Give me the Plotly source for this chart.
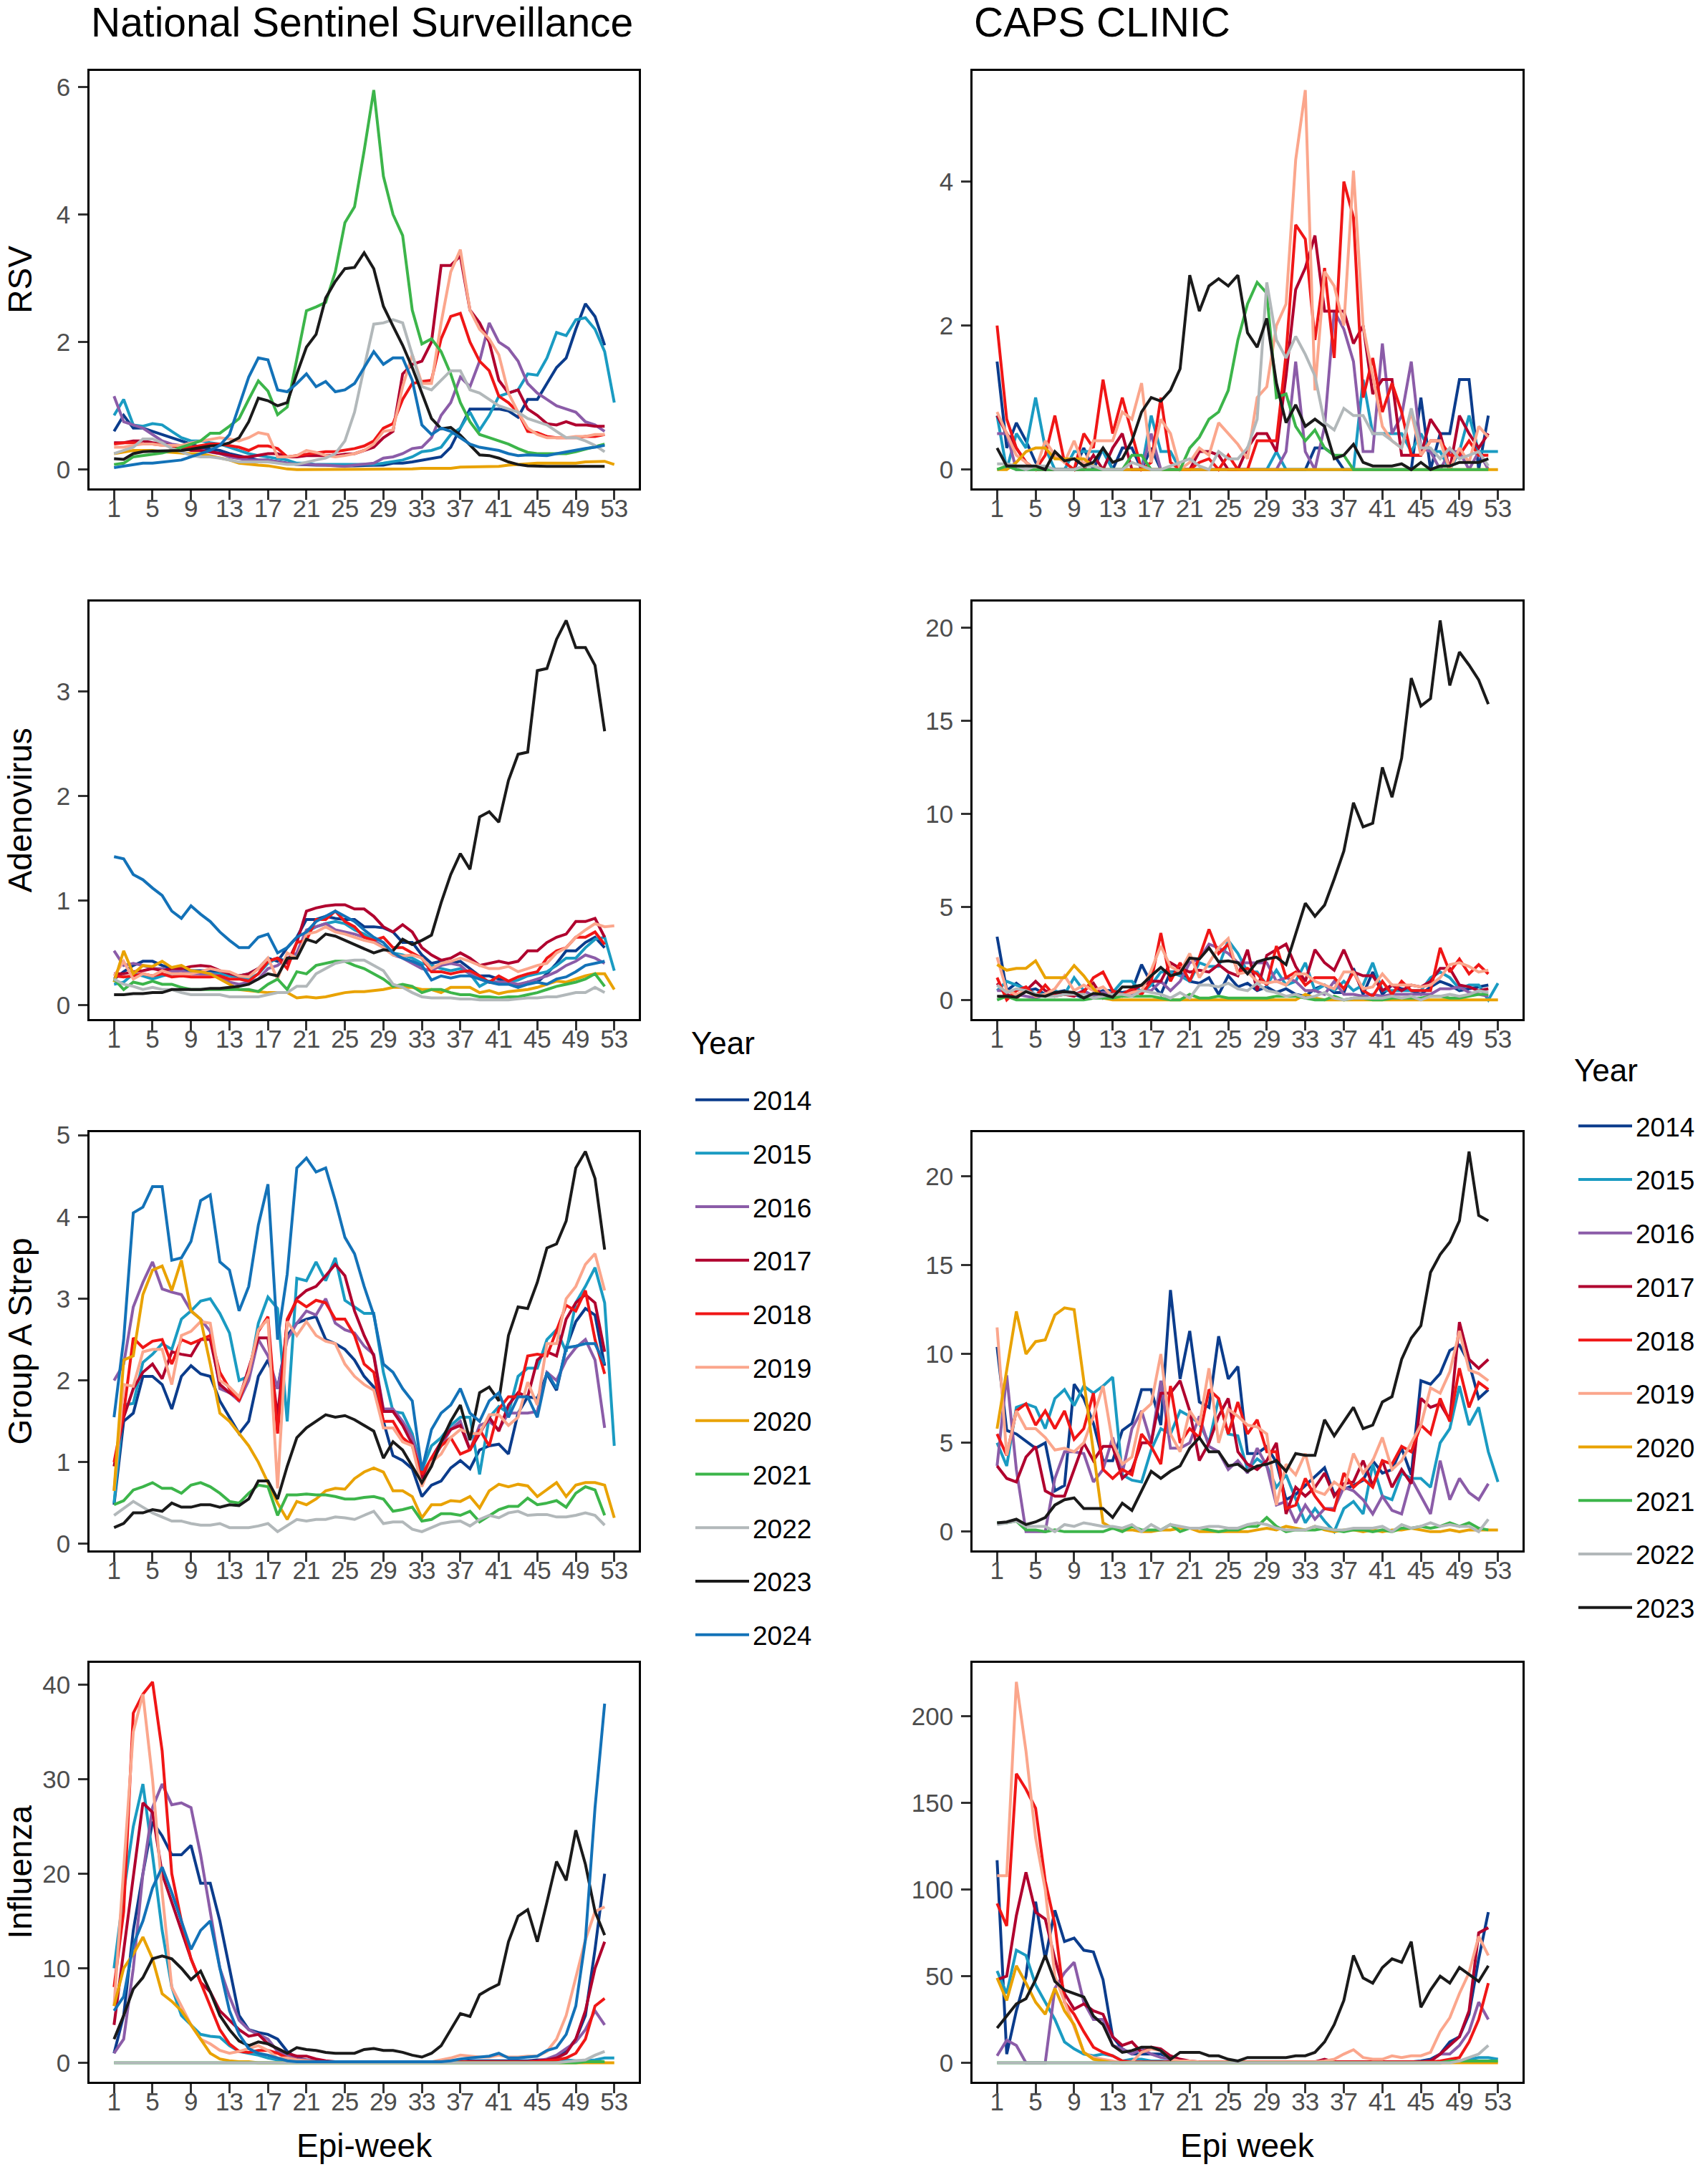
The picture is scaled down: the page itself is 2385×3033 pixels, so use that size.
import plotly.graph_objects as go

# ---------------- data ----------------
YEARS = [2014, 2015, 2016, 2017, 2018, 2019, 2020, 2021, 2022, 2023, 2024]
COLORS = {2014: "#0B3C8C", 2015: "#1A9BC2", 2016: "#8B5CA8", 2017: "#B0002E",
          2018: "#F01616", 2019: "#FBA68C", 2020: "#E9A200", 2021: "#3CB54A",
          2022: "#B2B8BA", 2023: "#1A1A1A", 2024: "#1372B8"}
X_TICKS = [1, 5, 9, 13, 17, 21, 25, 29, 33, 37, 41, 45, 49, 53]
ROW_LABELS = ["RSV", "Adenovirus", "Group A Strep", "Influenza"]
COL_TITLES = ["National Sentinel Surveillance", "CAPS CLINIC"]
X_TITLES = ["Epi-week", "Epi week"]
LEGEND_TITLE = "Year"

# ---- RSV, National Sentinel Surveillance ----
RSV_NSS_2014 = [0.60, 0.85, 0.65, 0.65, 0.60, 0.55, 0.50, 0.45, 0.40, 0.35, 0.32, 0.30, 0.25, 0.22, 0.18, 0.15, 0.15, 0.12, 0.10, 0.08, 0.07, 0.07, 0.07, 0.06, 0.06, 0.06, 0.06, 0.06, 0.07, 0.10, 0.10, 0.12, 0.15, 0.18, 0.20, 0.35, 0.65, 0.95, 0.95, 0.95, 0.95, 0.92, 0.82, 1.10, 1.10, 1.35, 1.60, 1.75, 2.20, 2.60, 2.40, 1.95]
RSV_NSS_2015 = [0.85, 1.10, 0.70, 0.68, 0.72, 0.70, 0.60, 0.50, 0.45, 0.45, 0.42, 0.40, 0.35, 0.30, 0.25, 0.22, 0.20, 0.18, 0.15, 0.10, 0.10, 0.08, 0.08, 0.08, 0.07, 0.07, 0.07, 0.08, 0.10, 0.12, 0.15, 0.20, 0.28, 0.30, 0.35, 0.55, 0.65, 0.90, 0.62, 0.85, 1.15, 1.20, 1.25, 1.50, 1.48, 1.75, 2.15, 2.10, 2.35, 2.38, 2.20, 1.85, 1.05]
RSV_NSS_2016 = [1.15, 0.75, 0.70, 0.65, 0.55, 0.45, 0.40, 0.38, 0.35, 0.30, 0.28, 0.25, 0.20, 0.18, 0.15, 0.15, 0.15, 0.12, 0.10, 0.08, 0.08, 0.08, 0.07, 0.06, 0.05, 0.07, 0.08, 0.10, 0.18, 0.20, 0.25, 0.33, 0.35, 0.50, 0.85, 1.05, 1.45, 1.30, 1.70, 2.30, 2.00, 1.90, 1.70, 1.35, 1.20, 1.10, 1.00, 0.95, 0.90, 0.75, 0.70, 0.60]
RSV_NSS_2017 = [0.42, 0.42, 0.45, 0.45, 0.42, 0.40, 0.38, 0.35, 0.30, 0.30, 0.28, 0.25, 0.22, 0.20, 0.20, 0.22, 0.25, 0.25, 0.20, 0.20, 0.22, 0.22, 0.22, 0.22, 0.24, 0.25, 0.30, 0.35, 0.50, 0.60, 1.50, 1.65, 1.70, 2.00, 3.20, 3.20, 3.35, 2.50, 2.30, 2.00, 1.40, 1.20, 1.25, 0.95, 0.85, 0.72, 0.70, 0.75, 0.70, 0.70, 0.68, 0.68]
RSV_NSS_2018 = [0.40, 0.42, 0.42, 0.40, 0.40, 0.38, 0.37, 0.35, 0.35, 0.37, 0.40, 0.40, 0.37, 0.35, 0.30, 0.37, 0.37, 0.33, 0.20, 0.22, 0.25, 0.27, 0.28, 0.28, 0.30, 0.33, 0.37, 0.45, 0.65, 0.72, 1.10, 1.35, 1.38, 1.40, 2.05, 2.40, 2.45, 2.00, 1.70, 1.55, 1.15, 1.05, 0.90, 0.60, 0.58, 0.52, 0.50, 0.50, 0.50, 0.52, 0.52, 0.55]
RSV_NSS_2019 = [0.35, 0.35, 0.38, 0.40, 0.40, 0.38, 0.38, 0.38, 0.42, 0.45, 0.48, 0.50, 0.48, 0.45, 0.50, 0.58, 0.55, 0.20, 0.20, 0.22, 0.30, 0.27, 0.22, 0.20, 0.22, 0.25, 0.30, 0.40, 0.60, 0.62, 1.30, 1.80, 1.35, 1.35, 2.30, 3.10, 3.45, 2.50, 2.20, 2.05, 1.80, 1.20, 0.90, 0.65, 0.55, 0.50, 0.50, 0.50, 0.52, 0.52, 0.55, 0.55]
RSV_NSS_2020 = [0.25, 0.28, 0.30, 0.30, 0.30, 0.28, 0.27, 0.25, 0.25, 0.25, 0.22, 0.18, 0.15, 0.10, 0.08, 0.07, 0.06, 0.03, 0.01, 0.00, 0.00, 0.00, 0.00, 0.00, 0.00, 0.00, 0.00, 0.01, 0.01, 0.01, 0.01, 0.01, 0.02, 0.02, 0.02, 0.02, 0.04, 0.04, 0.05, 0.05, 0.05, 0.07, 0.08, 0.10, 0.10, 0.10, 0.10, 0.10, 0.10, 0.12, 0.12, 0.13, 0.08]
RSV_NSS_2021 = [0.08, 0.10, 0.20, 0.22, 0.24, 0.26, 0.30, 0.35, 0.40, 0.45, 0.57, 0.57, 0.68, 0.80, 1.10, 1.39, 1.23, 0.86, 0.98, 1.74, 2.49, 2.55, 2.62, 3.10, 3.87, 4.12, 5.00, 5.95, 4.60, 4.00, 3.67, 2.50, 1.97, 2.05, 1.85, 1.50, 1.05, 0.75, 0.55, 0.50, 0.45, 0.40, 0.33, 0.27, 0.25, 0.25, 0.25, 0.25, 0.28, 0.32, 0.35, 0.40]
RSV_NSS_2022 = [0.25, 0.30, 0.35, 0.48, 0.48, 0.42, 0.33, 0.28, 0.22, 0.20, 0.20, 0.18, 0.15, 0.12, 0.12, 0.12, 0.12, 0.10, 0.08, 0.08, 0.12, 0.15, 0.18, 0.25, 0.45, 0.90, 1.60, 2.28, 2.30, 2.35, 2.30, 1.80, 1.30, 1.25, 1.40, 1.55, 1.55, 1.25, 1.20, 1.10, 1.00, 0.95, 0.90, 0.80, 0.75, 0.70, 0.60, 0.50, 0.50, 0.45, 0.38, 0.28]
RSV_NSS_2023 = [0.17, 0.16, 0.25, 0.28, 0.29, 0.29, 0.30, 0.30, 0.32, 0.35, 0.37, 0.38, 0.42, 0.50, 0.75, 1.12, 1.08, 1.00, 1.05, 1.50, 1.92, 2.12, 2.69, 2.95, 3.15, 3.17, 3.40, 3.15, 2.56, 2.25, 1.95, 1.60, 1.20, 0.80, 0.64, 0.66, 0.54, 0.38, 0.23, 0.22, 0.18, 0.12, 0.08, 0.06, 0.05, 0.05, 0.05, 0.05, 0.05, 0.05, 0.05, 0.05]
RSV_NSS_2024 = [0.03, 0.05, 0.07, 0.10, 0.10, 0.12, 0.13, 0.15, 0.20, 0.25, 0.30, 0.38, 0.55, 1.00, 1.45, 1.75, 1.72, 1.25, 1.22, 1.35, 1.50, 1.30, 1.38, 1.22, 1.25, 1.35, 1.60, 1.85, 1.65, 1.75, 1.75, 1.40, 0.70, 0.55, 0.65, 0.60, 0.50, 0.40, 0.35, 0.33, 0.30, 0.25, 0.22, 0.23, 0.23, 0.22, 0.25, 0.28, 0.30, 0.33, 0.35, 0.38]

# ---- RSV, CAPS clinic ----
RSV_CAPS_2014 = [1.50, 0.30, 0.65, 0.40, 0.10, 0.00, 0.00, 0.00, 0.00, 0.30, 0.00, 0.30, 0.00, 0.30, 0.30, 0.00, 0.30, 0.00, 0.00, 0.00, 0.00, 0.00, 0.00, 0.00, 0.00, 0.00, 0.00, 0.00, 0.00, 0.00, 0.00, 0.00, 0.00, 0.30, 0.30, 0.20, 0.00, 0.00, 0.00, 0.00, 0.00, 0.00, 0.00, 0.00, 1.00, 0.00, 0.50, 0.50, 1.25, 1.25, 0.00, 0.75]
RSV_CAPS_2015 = [0.75, 0.00, 0.50, 0.30, 1.00, 0.30, 0.00, 0.00, 0.25, 0.25, 0.25, 0.25, 0.00, 0.00, 0.00, 0.00, 0.75, 0.25, 0.25, 0.00, 0.00, 0.00, 0.00, 0.00, 0.00, 0.00, 0.00, 0.00, 0.00, 0.25, 0.00, 0.00, 0.00, 0.00, 0.00, 0.00, 0.00, 0.00, 1.25, 0.50, 0.50, 0.50, 0.50, 0.25, 0.50, 0.25, 0.25, 0.00, 0.25, 0.75, 0.25, 0.25, 0.25]
RSV_CAPS_2016 = [0.50, 0.50, 0.00, 0.00, 0.00, 0.00, 0.00, 0.00, 0.00, 0.00, 0.00, 0.00, 0.00, 0.00, 0.00, 0.00, 0.50, 0.00, 0.00, 0.00, 0.00, 0.00, 0.00, 0.00, 0.00, 0.00, 0.00, 0.00, 0.00, 0.00, 0.25, 1.50, 0.25, 0.00, 0.60, 2.20, 1.95, 1.50, 0.25, 0.25, 1.75, 0.50, 0.75, 1.50, 0.30, 0.25, 0.00, 0.25, 0.25, 0.00, 0.25, 0.00]
RSV_CAPS_2017 = [0.75, 0.50, 0.30, 0.10, 0.00, 0.00, 0.00, 0.00, 0.00, 0.00, 0.20, 0.00, 0.30, 0.50, 0.00, 0.00, 0.00, 0.00, 0.00, 0.00, 0.00, 0.25, 0.25, 0.20, 0.00, 0.00, 0.30, 0.50, 0.50, 0.25, 1.30, 2.50, 2.80, 3.25, 2.20, 2.20, 2.20, 1.75, 2.00, 1.05, 1.25, 1.25, 0.20, 0.20, 0.20, 0.70, 0.50, 0.00, 0.75, 0.50, 0.30, 0.50]
RSV_CAPS_2018 = [2.00, 0.70, 0.30, 0.10, 0.00, 0.20, 0.75, 0.10, 0.00, 0.50, 0.30, 1.25, 0.50, 1.00, 0.50, 0.00, 0.10, 1.00, 0.10, 0.00, 0.00, 0.10, 0.15, 0.00, 0.20, 0.00, 0.00, 0.40, 0.40, 0.40, 1.60, 3.40, 3.20, 1.80, 2.80, 1.55, 4.00, 3.50, 1.00, 1.55, 0.80, 1.20, 0.80, 0.20, 0.20, 0.40, 0.40, 0.20, 0.20, 0.40, 0.20, 0.20]
RSV_CAPS_2019 = [0.80, 0.50, 0.20, 0.10, 0.00, 0.40, 0.20, 0.10, 0.40, 0.05, 0.40, 0.40, 0.40, 0.80, 0.70, 1.20, 0.10, 0.70, 0.50, 0.00, 0.10, 0.30, 0.20, 0.65, 0.50, 0.35, 0.15, 1.00, 1.15, 2.00, 2.30, 4.30, 5.27, 1.10, 2.75, 2.55, 2.00, 4.15, 2.00, 1.30, 0.60, 0.40, 0.30, 0.80, 0.20, 0.40, 0.40, 0.00, 0.30, 0.10, 0.60, 0.45]
RSV_CAPS_2020 = [0.00, 0.00, 0.10, 0.25, 0.30, 0.30, 0.15, 0.15, 0.15, 0.15, 0.05, 0.00, 0.00, 0.00, 0.00, 0.00, 0.00, 0.00, 0.00, 0.00, 0.00, 0.00, 0.00, 0.00, 0.00, 0.00, 0.00, 0.00, 0.00, 0.00, 0.00, 0.00, 0.00, 0.00, 0.00, 0.00, 0.00, 0.00, 0.00, 0.00, 0.00, 0.00, 0.00, 0.00, 0.00, 0.00, 0.00, 0.00, 0.00, 0.00, 0.00, 0.00, 0.00]
RSV_CAPS_2021 = [0.00, 0.05, 0.00, 0.00, 0.00, 0.00, 0.00, 0.00, 0.00, 0.00, 0.00, 0.00, 0.00, 0.00, 0.20, 0.20, 0.00, 0.00, 0.00, 0.00, 0.30, 0.45, 0.70, 0.80, 1.10, 1.80, 2.30, 2.60, 2.45, 1.00, 1.05, 0.60, 0.40, 0.55, 0.30, 0.20, 0.20, 0.00, 0.00, 0.00, 0.00, 0.00, 0.00, 0.00, 0.00, 0.00, 0.00, 0.00, 0.00, 0.00, 0.00, 0.00]
RSV_CAPS_2022 = [0.08, 0.08, 0.05, 0.00, 0.05, 0.05, 0.00, 0.00, 0.00, 0.05, 0.05, 0.00, 0.00, 0.00, 0.10, 0.05, 0.00, 0.00, 0.05, 0.10, 0.15, 0.05, 0.00, 0.25, 0.15, 0.15, 0.30, 0.70, 2.60, 1.80, 1.55, 1.85, 1.60, 1.30, 0.65, 0.55, 0.85, 0.75, 0.75, 0.50, 0.50, 0.40, 0.30, 0.85, 0.30, 0.30, 0.15, 0.30, 0.15, 0.20, 0.25, 0.05]
RSV_CAPS_2023 = [0.30, 0.05, 0.05, 0.05, 0.05, 0.00, 0.25, 0.12, 0.15, 0.05, 0.10, 0.30, 0.10, 0.15, 0.40, 0.80, 1.00, 0.95, 1.10, 1.40, 2.70, 2.20, 2.55, 2.65, 2.55, 2.70, 1.90, 1.70, 2.10, 1.20, 0.65, 0.90, 0.60, 0.70, 0.60, 0.15, 0.20, 0.35, 0.10, 0.05, 0.05, 0.05, 0.08, 0.00, 0.10, 0.00, 0.05, 0.05, 0.10, 0.10, 0.10, 0.15]

# ---- Adenovirus, National Sentinel Surveillance ----
ADV_NSS_2014 = [0.25, 0.32, 0.38, 0.42, 0.42, 0.38, 0.35, 0.35, 0.33, 0.33, 0.33, 0.32, 0.30, 0.28, 0.30, 0.35, 0.45, 0.42, 0.55, 0.65, 0.82, 0.82, 0.85, 0.83, 0.82, 0.82, 0.75, 0.75, 0.74, 0.70, 0.60, 0.60, 0.48, 0.40, 0.42, 0.40, 0.42, 0.35, 0.28, 0.28, 0.25, 0.22, 0.18, 0.22, 0.22, 0.30, 0.40, 0.52, 0.52, 0.60, 0.65, 0.55]
ADV_NSS_2015 = [0.20, 0.22, 0.30, 0.28, 0.25, 0.28, 0.30, 0.30, 0.32, 0.30, 0.30, 0.30, 0.28, 0.27, 0.25, 0.30, 0.40, 0.45, 0.42, 0.48, 0.70, 0.75, 0.78, 0.80, 0.78, 0.72, 0.68, 0.62, 0.56, 0.50, 0.48, 0.45, 0.40, 0.38, 0.35, 0.33, 0.35, 0.30, 0.18, 0.23, 0.22, 0.22, 0.24, 0.28, 0.30, 0.32, 0.38, 0.45, 0.45, 0.55, 0.63, 0.65, 0.33]
ADV_NSS_2016 = [0.52, 0.38, 0.40, 0.38, 0.35, 0.35, 0.32, 0.33, 0.30, 0.30, 0.30, 0.28, 0.22, 0.20, 0.22, 0.25, 0.35, 0.38, 0.45, 0.50, 0.72, 0.75, 0.78, 0.72, 0.70, 0.68, 0.65, 0.62, 0.55, 0.48, 0.45, 0.40, 0.35, 0.33, 0.38, 0.40, 0.38, 0.30, 0.25, 0.22, 0.22, 0.22, 0.20, 0.22, 0.25, 0.28, 0.32, 0.38, 0.42, 0.48, 0.45, 0.40]
ADV_NSS_2017 = [0.30, 0.30, 0.32, 0.33, 0.35, 0.33, 0.35, 0.35, 0.37, 0.38, 0.37, 0.33, 0.30, 0.28, 0.30, 0.35, 0.42, 0.45, 0.40, 0.60, 0.90, 0.93, 0.95, 0.96, 0.96, 0.92, 0.92, 0.85, 0.75, 0.70, 0.77, 0.70, 0.55, 0.48, 0.43, 0.45, 0.50, 0.45, 0.38, 0.40, 0.42, 0.40, 0.42, 0.52, 0.52, 0.60, 0.65, 0.68, 0.80, 0.80, 0.83, 0.65]
ADV_NSS_2018 = [0.28, 0.27, 0.28, 0.30, 0.28, 0.30, 0.27, 0.28, 0.27, 0.27, 0.27, 0.28, 0.25, 0.25, 0.23, 0.30, 0.42, 0.45, 0.35, 0.60, 0.62, 0.82, 0.82, 0.90, 0.80, 0.75, 0.65, 0.62, 0.65, 0.55, 0.55, 0.50, 0.45, 0.32, 0.32, 0.30, 0.32, 0.33, 0.28, 0.22, 0.28, 0.23, 0.27, 0.30, 0.32, 0.45, 0.52, 0.55, 0.65, 0.65, 0.70, 0.58]
ADV_NSS_2019 = [0.28, 0.42, 0.25, 0.30, 0.28, 0.33, 0.30, 0.30, 0.30, 0.32, 0.35, 0.33, 0.32, 0.28, 0.27, 0.35, 0.45, 0.25, 0.50, 0.45, 0.68, 0.70, 0.75, 0.70, 0.68, 0.65, 0.62, 0.60, 0.55, 0.48, 0.47, 0.48, 0.45, 0.35, 0.40, 0.42, 0.45, 0.42, 0.38, 0.35, 0.35, 0.37, 0.32, 0.35, 0.38, 0.40, 0.50, 0.55, 0.65, 0.72, 0.78, 0.75, 0.76]
ADV_NSS_2020 = [0.22, 0.52, 0.30, 0.38, 0.37, 0.42, 0.36, 0.38, 0.33, 0.32, 0.30, 0.25, 0.20, 0.15, 0.14, 0.13, 0.12, 0.12, 0.12, 0.07, 0.08, 0.07, 0.08, 0.10, 0.12, 0.13, 0.13, 0.14, 0.15, 0.17, 0.17, 0.17, 0.15, 0.15, 0.12, 0.17, 0.17, 0.17, 0.12, 0.14, 0.11, 0.13, 0.14, 0.15, 0.17, 0.20, 0.23, 0.22, 0.25, 0.28, 0.30, 0.30, 0.15]
ADV_NSS_2021 = [0.25, 0.15, 0.22, 0.20, 0.23, 0.20, 0.20, 0.17, 0.15, 0.15, 0.15, 0.15, 0.15, 0.15, 0.15, 0.13, 0.20, 0.25, 0.15, 0.32, 0.30, 0.38, 0.40, 0.42, 0.42, 0.38, 0.35, 0.30, 0.25, 0.18, 0.20, 0.18, 0.12, 0.15, 0.15, 0.12, 0.10, 0.10, 0.08, 0.08, 0.07, 0.08, 0.08, 0.10, 0.12, 0.15, 0.18, 0.20, 0.22, 0.25, 0.30, 0.18]
ADV_NSS_2022 = [0.25, 0.20, 0.18, 0.15, 0.17, 0.15, 0.15, 0.12, 0.10, 0.10, 0.10, 0.10, 0.08, 0.08, 0.08, 0.08, 0.10, 0.12, 0.12, 0.18, 0.18, 0.30, 0.35, 0.40, 0.42, 0.43, 0.43, 0.38, 0.33, 0.20, 0.17, 0.12, 0.08, 0.07, 0.07, 0.07, 0.06, 0.06, 0.05, 0.05, 0.05, 0.05, 0.06, 0.07, 0.07, 0.08, 0.08, 0.10, 0.12, 0.12, 0.17, 0.12]
ADV_NSS_2023 = [0.10, 0.10, 0.11, 0.11, 0.12, 0.12, 0.15, 0.15, 0.15, 0.15, 0.16, 0.16, 0.17, 0.18, 0.20, 0.25, 0.30, 0.28, 0.45, 0.45, 0.63, 0.60, 0.68, 0.66, 0.62, 0.58, 0.54, 0.50, 0.53, 0.52, 0.63, 0.58, 0.62, 0.67, 0.98, 1.25, 1.45, 1.30, 1.80, 1.85, 1.75, 2.15, 2.40, 2.42, 3.20, 3.22, 3.50, 3.68, 3.42, 3.42, 3.25, 2.62]
ADV_NSS_2024 = [1.42, 1.40, 1.25, 1.20, 1.12, 1.05, 0.90, 0.83, 0.95, 0.87, 0.80, 0.70, 0.62, 0.55, 0.55, 0.65, 0.68, 0.50, 0.55, 0.65, 0.70, 0.80, 0.85, 0.90, 0.85, 0.80, 0.72, 0.65, 0.60, 0.50, 0.45, 0.42, 0.38, 0.24, 0.28, 0.26, 0.28, 0.28, 0.25, 0.22, 0.20, 0.20, 0.17, 0.20, 0.22, 0.20, 0.25, 0.27, 0.32, 0.38, 0.40, 0.42]

# ---- Adenovirus, CAPS clinic ----
ADV_CAPS_2014 = [3.4, 0.5, 0.9, 0.5, 0.6, 0.3, 0.4, 0.5, 0.3, 0.1, 0.3, 0.5, 0.5, 0.4, 0.5, 1.9, 0.9, 0.3, 1.5, 1.5, 1.0, 0.9, 1.2, 0.3, 1.3, 0.7, 0.9, 0.5, 0.7, 0.4, 0.6, 0.3, 0.2, 0.6, 0.8, 0.4, 0.4, 1.7, 0.3, 1.5, 0.3, 0.8, 0.6, 0.5, 0.3, 0.7, 1.0, 0.8, 0.5, 0.6, 0.7, 0.8]
ADV_CAPS_2015 = [0.5, 1.0, 0.8, 0.6, 0.3, 0.3, 0.5, 0.3, 1.2, 0.5, 0.2, 0.4, 0.4, 1.0, 1.0, 0.4, 0.8, 1.5, 1.5, 1.3, 1.0, 2.0, 1.8, 1.8, 3.2, 2.5, 1.5, 1.5, 0.8, 1.6, 0.8, 1.0, 2.0, 0.5, 0.8, 0.5, 1.0, 0.5, 0.8, 2.0, 0.5, 0.5, 0.5, 0.5, 0.5, 1.2, 1.5, 1.2, 0.6, 0.8, 0.8, 0.0, 0.9]
ADV_CAPS_2016 = [0.5, 0.5, 0.3, 0.2, 0.1, 0.3, 0.2, 0.4, 0.3, 0.5, 0.2, 0.4, 0.3, 0.2, 0.3, 0.5, 0.5, 1.0, 0.5, 1.0, 2.0, 2.2, 3.0, 2.8, 2.5, 2.0, 2.0, 2.0, 2.0, 1.0, 1.2, 1.0, 0.5, 0.5, 0.3, 1.0, 0.3, 0.3, 0.2, 0.3, 0.2, 0.3, 0.3, 0.3, 0.3, 0.3, 0.6, 0.6, 0.7, 0.4, 0.3, 0.2]
ADV_CAPS_2017 = [0.9, 0.3, 0.1, 0.5, 1.0, 0.5, 0.3, 0.3, 0.2, 0.5, 0.9, 0.1, 0.4, 0.2, 0.5, 0.8, 1.0, 1.0, 2.0, 1.7, 1.5, 1.6, 1.5, 1.9, 1.5, 1.3, 2.7, 0.5, 2.4, 2.7, 3.0, 1.8, 1.0, 2.7, 2.0, 1.6, 2.7, 1.5, 1.3, 1.3, 0.5, 0.8, 0.5, 0.8, 0.7, 1.0, 1.7, 1.7, 0.8, 0.7, 0.5, 0.6]
ADV_CAPS_2018 = [1.2, 0.0, 0.5, 0.7, 0.2, 0.8, 0.2, 0.3, 0.3, 0.4, 1.2, 1.5, 0.5, 0.3, 0.6, 0.3, 1.0, 3.6, 1.0, 2.0, 1.0, 2.3, 3.8, 2.5, 3.0, 1.5, 1.7, 1.4, 0.8, 2.9, 1.2, 1.5, 0.8, 1.2, 1.2, 1.2, 0.6, 1.5, 0.5, 0.2, 1.0, 0.3, 1.0, 0.5, 0.5, 0.5, 2.8, 1.5, 2.2, 1.4, 1.9, 1.4]
ADV_CAPS_2019 = [2.3, 0.5, 0.3, 0.5, 0.2, 0.3, 0.6, 1.3, 0.5, 0.8, 0.5, 0.7, 0.2, 0.2, 0.4, 0.5, 1.6, 2.9, 1.8, 1.5, 2.5, 1.2, 2.0, 2.8, 3.3, 1.4, 1.5, 1.0, 0.9, 1.0, 0.8, 1.4, 1.4, 1.0, 0.8, 0.6, 1.5, 1.5, 0.6, 0.7, 1.4, 0.8, 0.8, 0.8, 0.7, 0.8, 1.2, 1.9, 2.0, 1.8, 1.5, 1.6]
ADV_CAPS_2020 = [1.9, 1.6, 1.7, 1.7, 2.1, 1.2, 1.2, 1.2, 1.85, 1.3, 0.6, 0.1, 0.0, 0.0, 0.0, 0.0, 0.0, 0.0, 0.0, 0.0, 0.0, 0.0, 0.0, 0.0, 0.0, 0.0, 0.0, 0.0, 0.0, 0.0, 0.0, 0.0, 0.3, 0.1, 0.0, 0.0, 0.0, 0.0, 0.0, 0.0, 0.0, 0.0, 0.0, 0.0, 0.0, 0.0, 0.0, 0.0, 0.0, 0.0, 0.0, 0.0, 0.0]
ADV_CAPS_2021 = [0.0, 0.2, 0.0, 0.0, 0.0, 0.0, 0.0, 0.0, 0.0, 0.0, 0.1, 0.1, 0.1, 0.2, 0.2, 0.2, 0.2, 0.1, 0.0, 0.0, 0.3, 0.1, 0.1, 0.2, 0.1, 0.1, 0.1, 0.1, 0.1, 0.2, 0.2, 0.2, 0.1, 0.0, 0.0, 0.2, 0.0, 0.1, 0.1, 0.0, 0.0, 0.1, 0.1, 0.1, 0.1, 0.2, 0.2, 0.1, 0.1, 0.2, 0.3, 0.3]
ADV_CAPS_2022 = [0.8, 0.4, 0.6, 0.5, 0.3, 0.2, 0.2, 0.3, 0.3, 0.3, 0.1, 0.2, 0.3, 0.3, 0.2, 0.5, 0.4, 0.3, 0.1, 0.4, 0.1, 0.8, 0.8, 0.7, 0.9, 0.6, 0.5, 0.9, 0.5, 0.4, 0.2, 0.3, 0.1, 0.2, 0.4, 0.1, 0.0, 0.1, 0.1, 0.1, 0.1, 0.2, 0.1, 0.2, 0.0, 0.2, 0.2, 0.3, 0.2, 0.3, 0.5, 0.4]
ADV_CAPS_2023 = [0.2, 0.2, 0.15, 0.45, 0.25, 0.2, 0.4, 0.45, 0.4, 0.1, 0.35, 0.3, 0.15, 0.7, 0.7, 0.8, 1.3, 1.75, 1.3, 1.45, 2.25, 2.2, 2.8, 2.05, 2.1, 2.0, 1.4, 2.05, 2.2, 2.3, 1.9, 3.5, 5.2, 4.5, 5.1, 6.5, 8.0, 10.6, 9.3, 9.5, 12.5, 10.9, 13.0, 17.3, 15.8, 16.2, 20.4, 16.9, 18.7, 18.0, 17.2, 15.9]

# ---- Group A Strep, National Sentinel Surveillance ----
GAS_NSS_2014 = [0.48, 1.50, 1.60, 2.05, 2.05, 1.95, 1.65, 2.05, 2.18, 2.08, 2.05, 1.75, 1.55, 1.35, 1.50, 2.05, 2.25, 1.90, 2.55, 2.70, 2.75, 2.78, 2.50, 2.45, 2.38, 2.25, 2.05, 1.92, 1.50, 1.08, 1.02, 0.92, 0.58, 0.72, 0.77, 0.93, 1.02, 0.92, 1.15, 1.20, 1.22, 1.10, 1.60, 1.80, 1.78, 2.08, 1.88, 2.40, 2.72, 2.88, 2.80, 2.18]
GAS_NSS_2015 = [0.50, 1.70, 1.72, 2.22, 2.32, 2.45, 2.38, 2.75, 2.85, 2.97, 3.00, 2.82, 2.58, 2.00, 2.05, 2.70, 3.02, 2.88, 1.50, 3.25, 3.22, 3.45, 3.22, 3.50, 2.98, 2.90, 2.82, 2.82, 2.10, 1.62, 1.60, 1.35, 0.90, 1.20, 1.30, 1.45, 1.55, 1.55, 0.85, 1.55, 1.68, 1.60, 2.05, 2.15, 2.15, 2.50, 2.62, 2.35, 2.95, 3.15, 3.38, 2.95, 1.20]
GAS_NSS_2016 = [2.00, 2.20, 2.90, 3.20, 3.45, 3.12, 3.08, 3.05, 2.85, 2.75, 2.60, 1.90, 1.85, 1.75, 2.00, 2.50, 2.30, 1.90, 2.50, 2.70, 2.85, 2.80, 3.00, 2.70, 2.62, 2.58, 2.42, 2.32, 1.65, 1.65, 1.50, 1.30, 0.85, 1.00, 1.20, 1.40, 1.50, 1.15, 1.45, 1.50, 1.40, 1.60, 1.60, 1.60, 1.62, 2.10, 2.00, 2.25, 2.40, 2.50, 2.25, 1.42]
GAS_NSS_2017 = [0.95, 1.55, 1.90, 2.10, 2.20, 2.02, 2.35, 2.32, 2.30, 2.50, 2.50, 1.95, 1.85, 1.78, 2.15, 2.52, 2.52, 1.55, 2.72, 3.00, 3.10, 3.15, 3.28, 3.42, 3.28, 2.85, 2.55, 2.30, 1.62, 1.62, 1.45, 1.22, 0.80, 1.05, 1.25, 1.40, 1.45, 1.15, 1.35, 1.55, 1.38, 1.70, 1.85, 1.80, 2.25, 2.35, 2.30, 2.75, 2.95, 3.05, 2.95, 2.35]
GAS_NSS_2018 = [1.00, 1.60, 2.52, 2.40, 2.48, 2.50, 2.20, 2.50, 2.45, 2.50, 2.55, 2.10, 1.90, 1.75, 2.10, 2.60, 2.78, 1.35, 2.75, 2.98, 2.90, 2.98, 2.95, 2.75, 2.75, 2.55, 2.20, 2.10, 1.50, 1.50, 1.30, 1.20, 0.85, 1.05, 1.20, 1.30, 1.10, 1.15, 1.40, 1.20, 1.65, 1.80, 1.80, 2.30, 2.32, 2.30, 2.60, 2.92, 2.85, 3.10, 2.50, 2.08]
GAS_NSS_2019 = [0.65, 1.95, 1.93, 2.35, 2.38, 2.38, 1.95, 2.55, 2.60, 2.72, 2.70, 2.00, 1.92, 1.80, 2.10, 2.62, 2.75, 0.68, 2.72, 2.55, 2.72, 2.55, 2.48, 2.45, 2.20, 2.05, 1.95, 1.88, 1.42, 1.42, 1.25, 1.20, 0.70, 1.00, 1.10, 1.30, 1.40, 1.35, 1.35, 1.58, 1.58, 1.45, 1.55, 1.98, 1.70, 2.45, 2.45, 3.00, 3.15, 3.42, 3.55, 3.10]
GAS_NSS_2020 = [0.65, 2.25, 2.30, 3.05, 3.35, 3.40, 3.10, 3.47, 2.85, 2.75, 2.20, 1.60, 1.50, 1.35, 1.20, 1.00, 0.75, 0.50, 0.30, 0.52, 0.48, 0.55, 0.65, 0.68, 0.67, 0.80, 0.88, 0.93, 0.88, 0.65, 0.65, 0.58, 0.32, 0.48, 0.48, 0.53, 0.52, 0.58, 0.44, 0.65, 0.73, 0.70, 0.73, 0.71, 0.58, 0.67, 0.75, 0.58, 0.72, 0.75, 0.75, 0.72, 0.32]
GAS_NSS_2021 = [0.48, 0.53, 0.66, 0.70, 0.75, 0.68, 0.68, 0.62, 0.72, 0.75, 0.70, 0.62, 0.52, 0.50, 0.62, 0.72, 0.70, 0.35, 0.60, 0.60, 0.61, 0.60, 0.60, 0.58, 0.55, 0.55, 0.57, 0.58, 0.55, 0.40, 0.42, 0.45, 0.28, 0.30, 0.37, 0.37, 0.35, 0.40, 0.27, 0.35, 0.42, 0.46, 0.46, 0.56, 0.48, 0.50, 0.53, 0.45, 0.62, 0.70, 0.66, 0.35]
GAS_NSS_2022 = [0.35, 0.43, 0.52, 0.45, 0.38, 0.33, 0.28, 0.28, 0.25, 0.23, 0.23, 0.25, 0.20, 0.20, 0.20, 0.22, 0.25, 0.15, 0.23, 0.30, 0.28, 0.30, 0.30, 0.33, 0.32, 0.30, 0.35, 0.40, 0.25, 0.27, 0.27, 0.18, 0.15, 0.20, 0.25, 0.27, 0.28, 0.22, 0.30, 0.35, 0.32, 0.38, 0.40, 0.35, 0.36, 0.36, 0.33, 0.33, 0.35, 0.38, 0.35, 0.23]
GAS_NSS_2023 = [0.20, 0.25, 0.38, 0.38, 0.42, 0.40, 0.50, 0.45, 0.45, 0.48, 0.48, 0.45, 0.48, 0.47, 0.55, 0.77, 0.77, 0.55, 0.95, 1.30, 1.42, 1.50, 1.58, 1.55, 1.57, 1.52, 1.45, 1.38, 1.05, 1.25, 1.15, 0.95, 0.75, 0.95, 1.25, 1.50, 1.70, 1.27, 1.85, 1.92, 1.75, 2.55, 2.90, 2.88, 3.20, 3.62, 3.67, 3.95, 4.60, 4.80, 4.47, 3.60]
GAS_NSS_2024 = [1.55, 2.50, 4.05, 4.12, 4.37, 4.37, 3.47, 3.50, 3.70, 4.20, 4.27, 3.45, 3.35, 2.85, 3.15, 3.90, 4.40, 2.50, 3.30, 4.60, 4.72, 4.55, 4.60, 4.20, 3.75, 3.55, 3.15, 2.80, 2.20, 2.10, 1.90, 1.75, 0.90, 1.40, 1.60, 1.70, 1.90, 1.60, 1.50, 1.75, 1.85, 1.55, 1.80, 1.80, 1.55, 2.10, 1.90, 2.40, 2.42, 2.45, 2.45, 2.20]

# ---- Group A Strep, CAPS clinic ----
GAS_CAPS_2014 = [10.4, 5.7, 5.5, 5.1, 4.7, 5.0, 2.3, 2.6, 8.3, 7.5, 6.1, 4.0, 4.0, 5.7, 6.1, 8.0, 8.0, 6.0, 13.6, 8.6, 11.3, 7.3, 7.0, 11.0, 8.6, 9.3, 4.4, 4.4, 4.8, 3.9, 1.8, 2.1, 2.6, 3.1, 3.6, 2.1, 2.4, 2.6, 2.9, 4.0, 3.3, 3.5, 4.7, 3.2, 8.5, 8.3, 8.9, 10.2, 10.5, 9.5, 7.5, 8.0]
GAS_CAPS_2015 = [5.0, 3.7, 7.0, 7.2, 7.0, 5.8, 7.5, 8.0, 7.1, 8.2, 7.8, 8.2, 8.7, 3.2, 2.9, 2.8, 4.6, 5.8, 5.5, 6.8, 6.5, 6.1, 5.0, 7.5, 5.5, 5.4, 3.5, 4.1, 3.7, 2.5, 3.2, 1.8, 0.5, 1.3, 0.6, 0.0, 1.3, 1.7, 1.0, 3.8, 2.0, 1.8, 3.3, 3.0, 3.0, 2.5, 5.0, 5.8, 8.2, 6.0, 7.0, 4.5, 2.8]
GAS_CAPS_2016 = [3.7, 8.8, 3.5, 0.0, 0.0, 0.0, 3.0, 4.5, 4.5, 4.4, 2.8, 3.5, 5.3, 3.3, 5.8, 6.8, 5.0, 8.5, 4.7, 4.7, 5.0, 6.5, 4.8, 4.5, 3.5, 4.0, 3.3, 4.7, 3.7, 1.5, 1.7, 0.5, 1.5, 0.7, 1.3, 1.3, 2.5, 2.3, 1.8, 1.0, 2.0, 1.2, 1.0, 3.0, 2.0, 1.0, 4.0, 1.8, 3.0, 2.2, 1.8, 2.7]
GAS_CAPS_2017 = [3.7, 3.0, 2.8, 4.2, 4.8, 2.3, 2.0, 2.0, 3.5, 5.0, 4.0, 4.8, 4.8, 3.0, 3.5, 5.0, 5.0, 7.8, 7.8, 8.5, 6.8, 4.0, 5.0, 6.5, 7.5, 4.5, 3.8, 3.5, 4.0, 5.0, 1.0, 2.5, 2.0, 2.5, 3.3, 2.0, 2.7, 2.8, 4.0, 2.6, 4.0, 2.5, 3.5, 2.7, 7.5, 7.0, 7.2, 6.3, 11.8, 9.7, 9.2, 9.7]
GAS_CAPS_2018 = [5.5, 4.3, 6.8, 7.2, 6.0, 6.8, 5.8, 6.8, 5.2, 5.8, 7.8, 3.5, 3.0, 3.5, 3.2, 5.5, 4.8, 3.8, 8.2, 5.0, 5.8, 5.3, 8.0, 7.5, 5.5, 7.3, 5.5, 6.3, 4.5, 4.5, 1.3, 1.5, 3.0, 2.0, 1.3, 1.2, 3.3, 2.5, 3.0, 2.5, 4.0, 3.8, 4.8, 4.5, 6.0, 5.5, 7.5, 6.2, 9.2, 7.0, 8.4, 8.0]
GAS_CAPS_2019 = [11.5, 4.3, 6.8, 5.8, 5.8, 5.3, 4.6, 4.7, 4.5, 5.0, 6.5, 8.2, 5.0, 3.8, 4.2, 6.7, 7.2, 10.0, 5.5, 4.5, 6.8, 6.0, 9.2, 5.0, 6.9, 6.5, 6.0, 5.9, 5.5, 1.5, 3.8, 3.2, 4.4, 2.3, 2.1, 2.8, 2.4, 4.4, 3.3, 4.0, 5.3, 3.5, 4.0, 5.0, 6.0, 8.1, 7.8, 9.0, 11.3, 9.1, 8.9, 8.5]
GAS_CAPS_2020 = [5.8, 9.0, 12.4, 10.0, 10.7, 10.8, 12.2, 12.6, 12.5, 8.5, 4.5, 0.5, 0.2, 0.1, 0.1, 0.0, 0.0, 0.1, 0.1, 0.2, 0.2, 0.0, 0.0, 0.0, 0.0, 0.0, 0.0, 0.1, 0.2, 0.1, 0.3, 0.2, 0.1, 0.3, 0.1, 0.0, 0.1, 0.1, 0.0, 0.1, 0.0, 0.1, 0.1, 0.2, 0.1, 0.0, 0.0, 0.1, 0.0, 0.1, 0.1, 0.1, 0.1]
GAS_CAPS_2021 = [0.5, 0.5, 0.6, 0.1, 0.1, 0.0, 0.1, 0.0, 0.0, 0.0, 0.0, 0.0, 0.2, 0.0, 0.3, 0.1, 0.1, 0.1, 0.4, 0.0, 0.2, 0.2, 0.1, 0.0, 0.1, 0.1, 0.3, 0.3, 0.8, 0.3, 0.0, 0.1, 0.1, 0.1, 0.2, 0.1, 0.0, 0.1, 0.1, 0.0, 0.1, 0.0, 0.2, 0.2, 0.3, 0.2, 0.3, 0.5, 0.3, 0.5, 0.2, 0.1]
GAS_CAPS_2022 = [0.4, 0.5, 0.6, 0.3, 0.3, 0.3, 0.0, 0.4, 0.3, 0.5, 0.4, 0.3, 0.3, 0.2, 0.4, 0.0, 0.4, 0.1, 0.4, 0.3, 0.2, 0.2, 0.3, 0.3, 0.2, 0.2, 0.4, 0.5, 0.4, 0.2, 0.1, 0.1, 0.1, 0.3, 0.2, 0.1, 0.1, 0.2, 0.2, 0.2, 0.3, 0.0, 0.4, 0.2, 0.3, 0.5, 0.3, 0.4, 0.3, 0.3, 0.0, 0.7]
GAS_CAPS_2023 = [0.5, 0.55, 0.7, 0.4, 0.55, 0.8, 1.5, 1.8, 1.9, 1.3, 1.3, 1.3, 0.8, 1.6, 1.2, 2.3, 3.4, 3.0, 3.4, 3.7, 4.7, 5.3, 4.5, 4.5, 3.7, 3.8, 3.4, 3.7, 3.8, 4.0, 3.4, 4.4, 4.3, 4.3, 6.3, 5.4, 6.2, 7.0, 5.8, 6.0, 7.3, 7.6, 9.7, 10.9, 11.6, 14.6, 15.6, 16.3, 17.5, 21.4, 17.8, 17.5]

# ---- Influenza, National Sentinel Surveillance ----
FLU_NSS_2014 = [1.0, 5.0, 14.0, 20.0, 25.5, 24.0, 22.0, 22.0, 23.0, 19.0, 19.0, 15.0, 10.0, 5.0, 3.5, 3.2, 3.0, 2.5, 1.2, 0.5, 0.3, 0.2, 0.1, 0.1, 0.1, 0.1, 0.1, 0.1, 0.1, 0.1, 0.1, 0.1, 0.1, 0.1, 0.1, 0.1, 0.1, 0.2, 0.2, 0.2, 0.2, 0.2, 0.2, 0.2, 0.3, 0.3, 0.6, 1.2, 2.5, 5.0, 12.0, 20.0]
FLU_NSS_2015 = [10.0, 18.0, 25.0, 29.5, 22.0, 14.0, 8.0, 5.0, 4.0, 3.0, 2.8, 2.7, 1.8, 1.2, 1.0, 0.8, 0.5, 0.3, 0.2, 0.1, 0.1, 0.1, 0.1, 0.1, 0.1, 0.1, 0.1, 0.1, 0.1, 0.1, 0.1, 0.1, 0.1, 0.1, 0.1, 0.1, 0.1, 0.1, 0.1, 0.1, 0.1, 0.1, 0.1, 0.1, 0.1, 0.1, 0.4, 0.3, 0.2, 0.2, 0.3, 0.5, 0.5]
FLU_NSS_2016 = [1.0, 2.5, 10.0, 20.0, 27.0, 29.5, 27.3, 27.5, 27.0, 22.0, 16.0, 10.0, 7.0, 4.5, 3.5, 3.0, 2.5, 1.2, 0.7, 0.4, 0.3, 0.2, 0.1, 0.1, 0.1, 0.1, 0.1, 0.1, 0.1, 0.1, 0.1, 0.1, 0.1, 0.1, 0.1, 0.1, 0.1, 0.1, 0.1, 0.1, 0.1, 0.1, 0.1, 0.1, 0.2, 0.4, 0.8, 1.5, 2.2, 3.5, 5.5, 4.0]
FLU_NSS_2017 = [4.0, 12.0, 20.0, 27.5, 26.5, 20.0, 17.0, 14.0, 11.0, 8.5, 7.5, 5.5, 4.5, 3.5, 2.8, 3.0, 2.0, 1.5, 1.0, 0.7, 0.7, 0.4, 0.2, 0.1, 0.1, 0.1, 0.1, 0.1, 0.1, 0.1, 0.1, 0.1, 0.1, 0.1, 0.1, 0.1, 0.1, 0.1, 0.1, 0.1, 0.1, 0.1, 0.1, 0.1, 0.2, 0.3, 0.5, 1.0, 2.5, 5.5, 10.0, 12.8]
FLU_NSS_2018 = [8.0, 16.0, 37.0, 39.0, 40.3, 33.0, 20.0, 15.0, 11.0, 8.5, 6.0, 3.5, 2.0, 1.2, 1.1, 1.3, 1.3, 1.0, 0.5, 0.3, 0.2, 0.1, 0.1, 0.1, 0.1, 0.1, 0.1, 0.1, 0.1, 0.1, 0.1, 0.1, 0.1, 0.1, 0.1, 0.1, 0.1, 0.1, 0.1, 0.1, 0.1, 0.1, 0.1, 0.1, 0.1, 0.2, 0.3, 0.5, 1.0, 2.5, 6.0, 6.8]
FLU_NSS_2019 = [6.0, 20.0, 35.0, 39.0, 30.0, 18.0, 8.0, 6.0, 4.0, 2.5, 2.0, 1.3, 1.0, 1.2, 1.5, 1.8, 1.3, 0.5, 0.5, 0.3, 0.2, 0.1, 0.1, 0.1, 0.1, 0.1, 0.1, 0.1, 0.1, 0.1, 0.1, 0.1, 0.1, 0.1, 0.3, 0.5, 0.8, 0.7, 0.6, 0.6, 0.8, 0.6, 0.6, 0.7, 0.7, 1.2, 2.5, 5.0, 9.0, 13.0, 16.0, 16.5]
FLU_NSS_2020 = [6.0, 10.0, 11.5, 13.3, 11.0, 7.3, 6.5, 5.5, 4.0, 2.5, 1.0, 0.4, 0.2, 0.1, 0.1, 0.0, 0.0, 0.0, 0.0, 0.0, 0.0, 0.0, 0.0, 0.0, 0.0, 0.0, 0.0, 0.0, 0.0, 0.0, 0.0, 0.0, 0.0, 0.0, 0.0, 0.0, 0.0, 0.0, 0.0, 0.0, 0.0, 0.0, 0.0, 0.0, 0.0, 0.0, 0.0, 0.0, 0.0, 0.0, 0.0, 0.0, 0.0]
FLU_NSS_2021 = [0.0, 0.0, 0.0, 0.0, 0.0, 0.0, 0.0, 0.0, 0.0, 0.0, 0.0, 0.0, 0.0, 0.0, 0.0, 0.0, 0.0, 0.0, 0.0, 0.0, 0.0, 0.0, 0.0, 0.0, 0.0, 0.0, 0.0, 0.0, 0.0, 0.0, 0.0, 0.0, 0.0, 0.0, 0.0, 0.0, 0.0, 0.0, 0.0, 0.0, 0.0, 0.0, 0.0, 0.0, 0.0, 0.0, 0.0, 0.0, 0.0, 0.1, 0.1, 0.1]
FLU_NSS_2022 = [0.0, 0.0, 0.0, 0.0, 0.0, 0.0, 0.0, 0.0, 0.0, 0.0, 0.0, 0.0, 0.0, 0.0, 0.0, 0.0, 0.0, 0.0, 0.0, 0.0, 0.0, 0.0, 0.0, 0.0, 0.0, 0.0, 0.0, 0.0, 0.0, 0.0, 0.0, 0.0, 0.0, 0.0, 0.0, 0.0, 0.0, 0.0, 0.0, 0.0, 0.0, 0.0, 0.0, 0.0, 0.0, 0.0, 0.0, 0.1, 0.2, 0.3, 0.8, 1.2]
FLU_NSS_2023 = [2.5, 5.0, 7.8, 9.0, 11.0, 11.3, 11.0, 10.0, 8.8, 9.7, 7.5, 5.0, 3.5, 2.3, 1.8, 2.2, 2.0, 1.5, 1.0, 1.6, 1.4, 1.3, 1.1, 1.0, 1.0, 1.0, 1.4, 1.5, 1.3, 1.3, 1.1, 0.8, 0.6, 1.0, 1.8, 3.5, 5.2, 4.9, 7.2, 7.8, 8.3, 12.8, 15.5, 16.2, 12.8, 17.0, 21.3, 19.3, 24.6, 21.0, 16.0, 13.5]
FLU_NSS_2024 = [5.5, 7.0, 12.5, 15.0, 18.5, 20.7, 18.0, 15.0, 12.0, 14.0, 15.0, 10.0, 5.5, 3.0, 1.5, 1.0, 0.8, 0.5, 0.2, 0.1, 0.1, 0.1, 0.1, 0.1, 0.1, 0.1, 0.1, 0.1, 0.1, 0.1, 0.1, 0.1, 0.1, 0.1, 0.1, 0.2, 0.4, 0.5, 0.6, 0.7, 1.0, 0.5, 0.5, 0.6, 0.7, 1.3, 1.6, 3.0, 6.0, 13.0, 27.0, 38.0]

# ---- Influenza, CAPS clinic ----
FLU_CAPS_2014 = [117, 5, 30, 50, 93, 60, 88, 70, 72, 65, 64, 48, 15, 8, 5, 5, 5, 5, 3, 1, 0.5, 0.5, 0.5, 0.5, 0.5, 0.5, 0.5, 0.5, 0.5, 0.5, 0.5, 0.5, 0.5, 0.5, 0.5, 0.5, 0.5, 0.5, 0.5, 0.5, 0.5, 0.5, 0.5, 0.5, 1, 2, 5, 12, 15, 28, 60, 87]
FLU_CAPS_2015 = [53, 40, 65, 62, 45, 35, 25, 12, 8, 5, 4, 5, 4, 1, 2, 2, 1, 1, 0.5, 0.5, 0.5, 0.5, 0.5, 0.5, 0.5, 0.5, 0.5, 0.5, 0.5, 0.5, 0.5, 0.5, 0.5, 0.5, 0.5, 0.5, 0.5, 0.5, 0.5, 0.5, 0.5, 0.5, 0.5, 0.5, 0.5, 0.5, 0.5, 0.5, 1, 2, 3, 3, 2]
FLU_CAPS_2016 = [4, 13, 10, 0, 0, 0, 43, 52, 58, 35, 25, 25, 10, 8, 5, 8, 5, 3, 2, 1, 0.5, 0.5, 0.5, 0.5, 0.5, 0.5, 0.5, 0.5, 0.5, 0.5, 0.5, 0.5, 0.5, 0.5, 0.5, 0.5, 0.5, 0.5, 0.5, 0.5, 0.5, 0.5, 0.5, 0.5, 0.5, 1, 5, 5, 10, 18, 35, 25]
FLU_CAPS_2017 = [48, 50, 85, 110, 87, 83, 60, 40, 31, 34, 30, 28, 15, 10, 12, 6, 9, 8, 4, 2, 1, 0.5, 0.5, 0.5, 0.5, 0.5, 0.5, 0.5, 0.5, 0.5, 0.5, 0.5, 0.5, 0.5, 2, 0.5, 0.5, 0.5, 0.5, 0.5, 0.5, 0.5, 0.5, 0.5, 0.5, 1, 5, 10, 15, 30, 75, 78]
FLU_CAPS_2018 = [92, 79, 167, 158, 147, 105, 80, 35, 28, 18, 9, 6, 4, 1, 0.5, 0.5, 0.5, 0.5, 0.5, 0.5, 0.5, 0.5, 0.5, 0.5, 0.5, 0.5, 0.5, 0.5, 0.5, 0.5, 0.5, 0.5, 0.5, 0.5, 0.5, 0.5, 0.5, 0.5, 0.5, 0.5, 0.5, 0.5, 0.5, 0.5, 0.5, 0.5, 1, 2, 3, 12, 25, 46]
FLU_CAPS_2019 = [108, 108, 220, 180, 130, 100, 50, 35, 20, 6, 3, 2, 1, 0, 0.5, 6, 8, 7, 2, 1, 1, 0.5, 0.5, 0.5, 0.5, 0.5, 0.5, 0.5, 0.5, 0.5, 0.5, 0.5, 0.5, 0.5, 1, 2, 5, 7.5, 3, 2, 2, 4, 3, 4, 4, 6, 18, 26, 40, 52, 73, 62]
FLU_CAPS_2020 = [49, 36, 56, 46, 35, 28, 43, 30, 22, 6, 2, 1, 0, 0, 0, 0, 0, 0, 0, 0, 0, 0, 0, 0, 0, 0, 0, 0, 0, 0, 0, 0, 0, 0, 0, 0, 0, 0, 0, 0, 0, 0, 0, 0, 0, 0, 0, 0, 0, 0, 0, 0, 0]
FLU_CAPS_2021 = [0, 0, 0, 0, 0, 0, 0, 0, 0, 0, 0, 0, 0, 0, 0, 0, 0, 0, 0, 0, 0, 0, 0, 0, 0, 0, 0, 0, 0, 0, 0, 0, 0, 0, 0, 0, 0, 0, 0, 0, 0, 0, 0, 0, 0, 0, 0, 1, 1, 1, 1, 1, 1]
FLU_CAPS_2022 = [0, 0, 0, 0, 0, 0, 0, 0, 0, 0, 0, 0, 0, 0, 0, 0, 0, 0, 0, 0, 0, 0, 0, 0, 0, 0, 0, 0, 0, 0, 0, 0, 0, 0, 0, 0, 0, 0, 0, 0, 0, 0, 0, 0, 0, 0, 0, 0, 1, 3, 5, 10]
FLU_CAPS_2023 = [20, 27, 34, 37, 48, 62, 47, 42, 40, 38, 27, 22, 10, 6, 7, 9, 9, 7, 2, 6, 6, 6, 4, 4, 2, 1, 3, 3, 3, 3, 3, 4, 4, 6, 12, 22, 36, 62, 49, 46, 55, 60, 58, 70, 32, 42, 50, 46, 55, 51, 47, 56]

# ---------------- panel assembly ----------------
PANELS = [
    # (row, col, series by year, y dtick)
    (0, 0, {2014: RSV_NSS_2014, 2015: RSV_NSS_2015, 2016: RSV_NSS_2016, 2017: RSV_NSS_2017, 2018: RSV_NSS_2018, 2019: RSV_NSS_2019, 2020: RSV_NSS_2020, 2021: RSV_NSS_2021, 2022: RSV_NSS_2022, 2023: RSV_NSS_2023, 2024: RSV_NSS_2024}, 2),
    (0, 1, {2014: RSV_CAPS_2014, 2015: RSV_CAPS_2015, 2016: RSV_CAPS_2016, 2017: RSV_CAPS_2017, 2018: RSV_CAPS_2018, 2019: RSV_CAPS_2019, 2020: RSV_CAPS_2020, 2021: RSV_CAPS_2021, 2022: RSV_CAPS_2022, 2023: RSV_CAPS_2023}, 2),
    (1, 0, {2014: ADV_NSS_2014, 2015: ADV_NSS_2015, 2016: ADV_NSS_2016, 2017: ADV_NSS_2017, 2018: ADV_NSS_2018, 2019: ADV_NSS_2019, 2020: ADV_NSS_2020, 2021: ADV_NSS_2021, 2022: ADV_NSS_2022, 2023: ADV_NSS_2023, 2024: ADV_NSS_2024}, 1),
    (1, 1, {2014: ADV_CAPS_2014, 2015: ADV_CAPS_2015, 2016: ADV_CAPS_2016, 2017: ADV_CAPS_2017, 2018: ADV_CAPS_2018, 2019: ADV_CAPS_2019, 2020: ADV_CAPS_2020, 2021: ADV_CAPS_2021, 2022: ADV_CAPS_2022, 2023: ADV_CAPS_2023}, 5),
    (2, 0, {2014: GAS_NSS_2014, 2015: GAS_NSS_2015, 2016: GAS_NSS_2016, 2017: GAS_NSS_2017, 2018: GAS_NSS_2018, 2019: GAS_NSS_2019, 2020: GAS_NSS_2020, 2021: GAS_NSS_2021, 2022: GAS_NSS_2022, 2023: GAS_NSS_2023, 2024: GAS_NSS_2024}, 1),
    (2, 1, {2014: GAS_CAPS_2014, 2015: GAS_CAPS_2015, 2016: GAS_CAPS_2016, 2017: GAS_CAPS_2017, 2018: GAS_CAPS_2018, 2019: GAS_CAPS_2019, 2020: GAS_CAPS_2020, 2021: GAS_CAPS_2021, 2022: GAS_CAPS_2022, 2023: GAS_CAPS_2023}, 5),
    (3, 0, {2014: FLU_NSS_2014, 2015: FLU_NSS_2015, 2016: FLU_NSS_2016, 2017: FLU_NSS_2017, 2018: FLU_NSS_2018, 2019: FLU_NSS_2019, 2020: FLU_NSS_2020, 2021: FLU_NSS_2021, 2022: FLU_NSS_2022, 2023: FLU_NSS_2023, 2024: FLU_NSS_2024}, 10),
    (3, 1, {2014: FLU_CAPS_2014, 2015: FLU_CAPS_2015, 2016: FLU_CAPS_2016, 2017: FLU_CAPS_2017, 2018: FLU_CAPS_2018, 2019: FLU_CAPS_2019, 2020: FLU_CAPS_2020, 2021: FLU_CAPS_2021, 2022: FLU_CAPS_2022, 2023: FLU_CAPS_2023}, 50),
]

# ---------------- layout geometry (pixels) ----------------
W, H = 2385, 3033
COL_PX = [(125, 892), (1358, 2126)]
ROW_PX = [(84, 672), (831, 1419), (1579, 2168), (2326, 2916)]
FONT = "Liberation Sans, Arial, Helvetica, sans-serif"

fig = go.Figure()
layout = dict(
    width=W, height=H, margin=dict(l=0, r=0, t=0, b=0),
    paper_bgcolor="white", plot_bgcolor="white",
    font=dict(family=FONT, color="black"),
    annotations=[],
)

shown = set()
for idx, (row, col, series, dtick) in enumerate(PANELS):
    n = idx + 1
    xa = "x" if n == 1 else f"x{n}"
    ya = "y" if n == 1 else f"y{n}"
    legend_name = "legend" if col == 0 else "legend2"
    allv = [v for s in series.values() for v in s]
    lo, hi = min(allv), max(allv)
    pad = 0.05 * (hi - lo)
    for yr in YEARS:
        if yr not in series:
            continue
        vals = series[yr]
        key = (col, yr)
        fig.add_trace(go.Scatter(
            x=list(range(1, len(vals) + 1)), y=vals, mode="lines",
            line=dict(color=COLORS[yr], width=4.0),
            name=str(yr), xaxis=xa, yaxis=ya,
            legend=legend_name, legendgroup=f"c{col}_{yr}",
            showlegend=key not in shown,
        ))
        shown.add(key)
    x0, x1 = COL_PX[col]
    y0, y1 = ROW_PX[row]
    axis_common = dict(
        showline=True, linecolor="black", linewidth=2.7, mirror=True,
        showgrid=False, zeroline=False, ticks="outside", ticklen=13,
        tickwidth=3.2, tickcolor="#333333",
        tickfont=dict(family=FONT, size=35, color="#4D4D4D"),
    )
    layout["xaxis" if n == 1 else f"xaxis{n}"] = dict(
        domain=[x0 / W, x1 / W], anchor=ya, range=[-1.55, 55.55],
        tickmode="array", tickvals=X_TICKS, ticklabelstandoff=-18, **axis_common)
    layout["yaxis" if n == 1 else f"yaxis{n}"] = dict(
        domain=[1 - y1 / H, 1 - y0 / H], anchor=xa, range=[lo - pad, hi + pad],
        tick0=0, dtick=dtick, ticklabelstandoff=4, **axis_common)

# column titles
for col, txt in enumerate(COL_TITLES):
    layout["annotations"].append(dict(
        text=txt, x=COL_PX[col][0] / W, y=1 - 15 / H, xref="paper", yref="paper",
        xanchor="left", yanchor="middle", showarrow=False,
        font=dict(family=FONT, size=57, color="black")))
# row labels (y axis titles, left column)
for row, txt in enumerate(ROW_LABELS):
    yc = (ROW_PX[row][0] + ROW_PX[row][1]) / 2
    layout["annotations"].append(dict(
        text=txt, x=0, y=1 - yc / H, xref="paper", yref="paper",
        xanchor="left", yanchor="middle", textangle=-90, showarrow=False,
        font=dict(family=FONT, size=46, color="black")))
# x axis titles (bottom row)
for col, txt in enumerate(X_TITLES):
    xc = (COL_PX[col][0] + COL_PX[col][1]) / 2
    layout["annotations"].append(dict(
        text=txt, x=xc / W, y=1 - 3006 / H, xref="paper", yref="paper",
        xanchor="center", yanchor="middle", showarrow=False,
        font=dict(family=FONT, size=46, color="black")))
# legend titles
for lx, ly in [(963, 1453), (2196, 1491)]:
    layout["annotations"].append(dict(
        text=LEGEND_TITLE, x=lx / W, y=1 - ly / H, xref="paper", yref="paper",
        xanchor="left", yanchor="middle", showarrow=False,
        font=dict(family=FONT, size=44, color="black")))

legend_common = dict(
    bgcolor="rgba(0,0,0,0)", borderwidth=0, traceorder="grouped",
    tracegroupgap=23.6, itemwidth=75, xanchor="left", yanchor="top",
    font=dict(family=FONT, size=37, color="black"),
    itemclick="toggleothers",
)
layout["legend"] = dict(x=966 / W, y=1 - 1502 / H, **legend_common)
layout["legend2"] = dict(x=2199 / W, y=1 - 1539 / H, **legend_common)

fig.update_layout(**layout)
fig.write_html("out.html")
